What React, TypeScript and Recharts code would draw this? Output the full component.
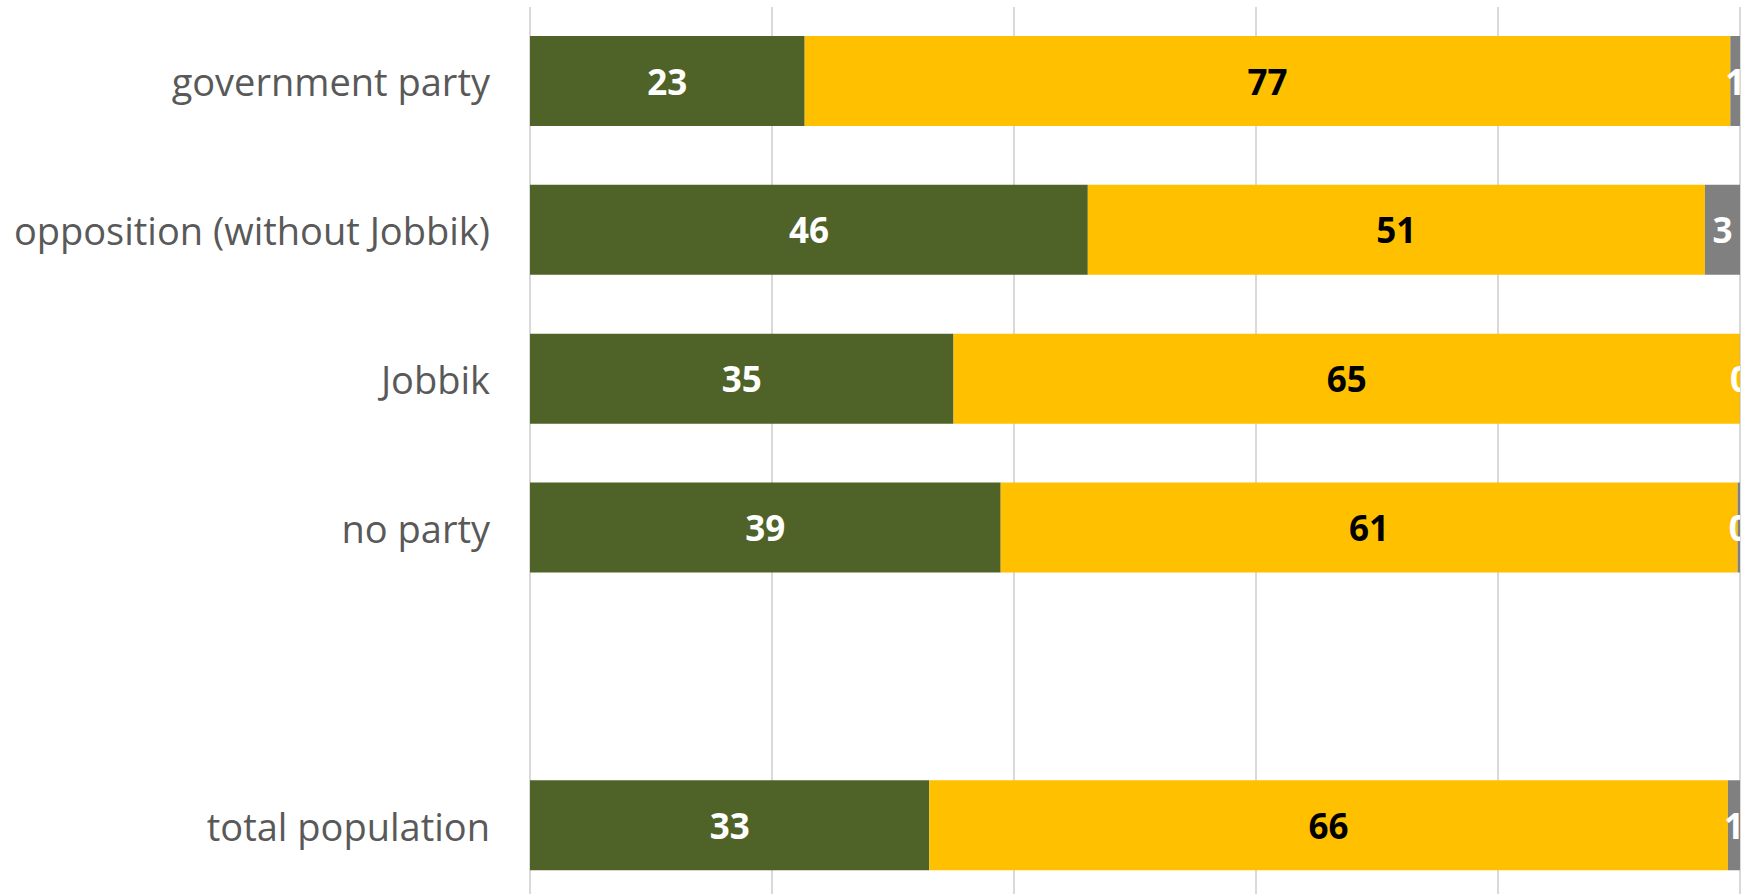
import { BarChart, Bar, XAxis, YAxis, CartesianGrid, LabelList } from "recharts";

// categories top to bottom ("" is the blank slot before the total)
const groups = ["government party", "opposition (without Jobbik)", "Jobbik", "no party", "", "total population"];
const agree = [22.7, 46.1, 35.0, 38.9, null, 33.0];
const disagree = [76.5, 51.0, 64.99, 60.9, null, 66.0];
const noAnswer = [0.8, 2.9, 0.01, 0.2, null, 1.0];
const xTicks = [0, 20, 40, 60, 80, 100];

const CHART_W = 1750;
const CHART_H = 900;
const margin = { top: 7, right: 10, bottom: 0, left: 0 };
const plotRight = CHART_W - margin.right;

const data = groups.map((name, i) => ({
  name,
  agree: agree[i],
  disagree: disagree[i],
  noAnswer: noAnswer[i],
}));

const FONT = "'Open Sans', 'Noto Sans', sans-serif";

function CategoryTick({ x, y, payload }: any) {
  return (
    <text
      x={x - 32}
      y={y}
      textAnchor="end"
      dominantBaseline="central"
      fill="#595959"
      fontFamily={FONT}
      fontSize={38}
    >
      {payload.value}
    </text>
  );
}

function makeLabel(color: string, key: string) {
  return (props: any) => {
    const { x, y, width, height, value, index } = props;
    if (value == null) return null;
    const id = `clip-${key}-${index}`;
    return (
      <g>
        <defs>
          <clipPath id={id}>
            <rect x={0} y={0} width={plotRight} height={CHART_H} />
          </clipPath>
        </defs>
        <text
          x={x + width / 2}
          y={y + height / 2}
          textAnchor="middle"
          dominantBaseline="central"
          fill={color}
          fontFamily={FONT}
          fontWeight="bold"
          fontSize={35}
          clipPath={`url(#${id})`}
        >
          {Math.round(value)}
        </text>
      </g>
    );
  };
}

export default function App() {
  return (
    <div
      style={{
        position: "fixed",
        top: 0,
        left: 0,
        width: 1750,
        height: 894,
        overflow: "hidden",
        background: "#fff",
      }}
    >
      <BarChart
        width={CHART_W}
        height={CHART_H}
        data={data}
        layout="vertical"
        margin={margin}
      >
        <CartesianGrid horizontal={false} stroke="#d9d9d9" strokeWidth={2} />
        <XAxis type="number" domain={[0, 100]} ticks={xTicks} hide />
        <YAxis
          type="category"
          dataKey="name"
          width={530}
          axisLine={false}
          tickLine={false}
          tick={<CategoryTick />}
          interval={0}
        />
        <Bar dataKey="agree" stackId="a" fill="#4f6228" barSize={90} isAnimationActive={false}>
          <LabelList dataKey="agree" content={makeLabel("#ffffff", "a")} />
        </Bar>
        <Bar dataKey="disagree" stackId="a" fill="#ffc000" barSize={90} isAnimationActive={false}>
          <LabelList dataKey="disagree" content={makeLabel("#000000", "d")} />
        </Bar>
        <Bar dataKey="noAnswer" stackId="a" fill="#808080" barSize={90} isAnimationActive={false}>
          <LabelList dataKey="noAnswer" content={makeLabel("#ffffff", "n")} />
        </Bar>
      </BarChart>
    </div>
  );
}
